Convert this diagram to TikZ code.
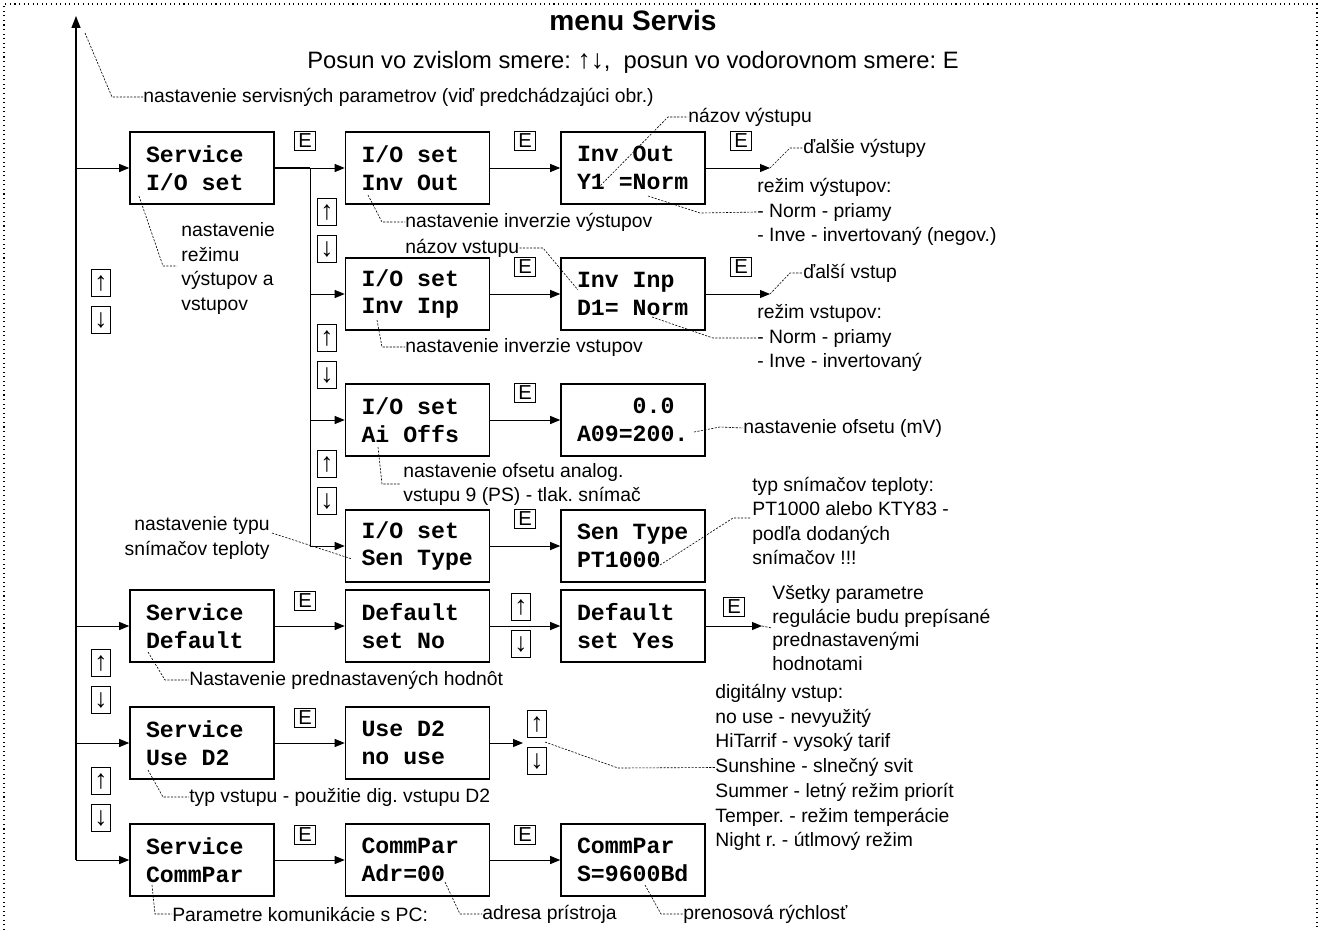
\documentclass[tikz,border=0pt]{standalone}
\usepackage{fontspec}
\setmainfont{Liberation Sans}
\newfontfamily\lcdfont{Liberation Mono}
\usepackage{tikz}
\usetikzlibrary{arrows.meta,calc,positioning}
\frenchspacing
\tikzset{%
	display/.style = {draw, line width=0.9pt, rectangle, minimum width=2.88cm, minimum height=1.44cm, inner sep=0pt, text width=2.24cm, align=left, font=\lcdfont\bfseries\fontsize{13.2}{15.9}\selectfont, execute at begin node=\spaceskip0.6em\relax},
	ekey/.style    = {draw, line width=0.5pt, minimum width=0.42cm, minimum height=0.38cm, inner sep=0pt, font=\fontsize{11.5}{11.5}\selectfont},
	udkey/.style   = {draw, line width=0.5pt, minimum width=0.38cm, minimum height=0.54cm, inner sep=0pt, font=\fontsize{15}{15}\selectfont},
	note/.style    = {anchor=west, inner sep=0pt, align=left, font=\fontsize{11}{14}\selectfont},
	arrow/.style   = {line width=0.55pt, -{Triangle[length=2mm,width=1.6mm]}},
	link/.style    = {line width=0.55pt},
	leader/.style  = {line width=0.35pt, dash pattern=on 1.2pt off 0.8pt},
}
\begin{document}
\begin{tikzpicture}[x=0.02cm,y=-0.02cm]
	\useasboundingbox (0,0) rectangle (1321,930);
	\draw[dotted, line width=0.6pt] (4,930) -- (4,4) -- (1317,4) -- (1317,930);  % frame
	
	\node[font=\bfseries\fontsize{16}{16}\selectfont] (title) at (633,20) {menu Servis};
	\node[font=\fontsize{13.5}{13.5}\selectfont] (subtitle) at (633,62) {Posun vo zvislom smere: {\fontsize{15}{15}\selectfont↑↓},\ \ posun vo vodorovnom smere: E};
	
	% displays
	\node[display] (sio) at (202,168) {Service\\I/O set};
	\node[display] (ioout) at (417.5,168) {I/O set\\Inv Out};
	\node[display] (invout) at (633,168) {Inv Out\\Y1 =Norm};
	\node[display] (ioinp) at (417.5,294) {I/O set\\Inv Inp};
	\node[display] (invinp) at (633,294) {Inv Inp\\D1= Norm};
	\node[display] (ioofs) at (417.5,420) {I/O set\\Ai Offs};
	\node[display] (ofsval) at (633,420) {\hphantom{A09=}0.0\\A09=200.};
	\node[display] (iosen) at (417.5,546) {I/O set\\Sen Type};
	\node[display] (sentype) at (633,546) {Sen Type\\PT1000};
	\node[display] (sdef) at (202,626) {Service\\Default};
	\node[display] (defno) at (417.5,626) {Default\\set No};
	\node[display] (defyes) at (633,626) {Default\\set Yes};
	\node[display] (sd2) at (202,743) {Service\\Use D2};
	\node[display] (d2val) at (417.5,743) {Use D2\\no use};
	\node[display] (scomm) at (202,860) {Service\\CommPar};
	\node[display] (commadr) at (417.5,860) {CommPar\\Adr=00};
	\node[display] (commbd) at (633,860) {CommPar\\S=9600Bd};
	
	% main line and I/O branch
	\coordinate (mtop) at (76,16);
	\coordinate (msub) at (310,168);
	\draw[line width=0.8pt, -{Triangle[length=2.4mm,width=1.8mm]}] (scomm.west -| mtop) -- (mtop);
	\foreach \n in {sio,sdef,sd2,scomm} \draw[arrow] (\n.west -| mtop) -- (\n.west);
	\draw[line width=1.1pt] (sio.east) -- (msub);
	\draw[link] (msub) -- (iosen.west -| msub);
	\foreach \n in {ioout,ioinp,ioofs,iosen} \draw[arrow] (\n.west -| msub) -- (\n.west);
	\foreach \a/\b in {ioout/invout, ioinp/invinp, ioofs/ofsval, iosen/sentype, sdef/defno, defno/defyes, sd2/d2val, scomm/commadr, commadr/commbd}
		\draw[arrow] (\a.east) -- (\b.west);
	
	\coordinate (nextout) at (770,168);
	\coordinate (nextinp) at (770,294);
	\coordinate (defend) at (762,626);
	\coordinate (d2end) at (523,743);
	\draw[arrow] (invout.east) -- (nextout);
	\draw[arrow] (invinp.east) -- (nextinp);
	\draw[arrow] (defyes.east) -- (defend);
	\draw[arrow] (d2val.east) -- (d2end);
	
	% keys
	\foreach \x/\y [count=\i] in {305/141, 525/141, 741/141, 525/267, 741/267, 525/393, 525/519, 305/601, 734/607, 305/718, 305/835, 525/835}
		\node[ekey] (e\i) at (\x,\y) {E};
	\foreach \x/\y [count=\i] in {101/283, 327/212, 327/338, 327/464, 521/607, 101/663, 537/724, 101/781} {
		\node[udkey] (up\i) at (\x,\y) {↑};
		\node[udkey] (dn\i) at (\x,\y+37) {↓};
	}
	
	% notes
	\node[note] (servpar) at (143,97) {nastavenie servisných parametrov (viď predchádzajúci obr.)};
	\draw[leader] (85,33) -- (112,97) -- (servpar.west);
	\node[note, font=\fontsize{11}{13.9}\selectfont] (iomode) at (181,268.5) {nastavenie\\režimu\\výstupov a\\vstupov};
	\draw[leader] (139,196) -- (163,266) -- (177,266);
	\node[note] (invouttxt) at (405,222) {nastavenie inverzie výstupov};
	\draw[leader] (368,195) -- (382,222) -- (invouttxt.west);
	\node[note] (invinptxt) at (405,347) {nastavenie inverzie vstupov};
	\draw[leader] (377,320) -- (382,347) -- (invinptxt.west);
	\node[note] (outname) at (688,117) {názov výstupu};
	\draw[leader] (598,188) -- (668,117) -- (outname.west);
	\node[note] (outmode) at (757,212) {režim výstupov:\\- Norm - priamy\\- Inve - invertovaný (negov.)};
	\draw[leader] (648,196) -- (700,213) -- (outmode.west);
	\node[note] (nextouttxt) at (803,148) {ďalšie výstupy};
	\draw[leader] (nextout) -- (790,148) -- (nextouttxt.west);
	\node[note] (inpname) at (405,248) {názov vstupu};
	\draw[leader] (inpname.east) -- (543,248) -- (578,290);
	\node[note] (nextinptxt) at (803,273) {ďalší vstup};
	\draw[leader] (nextinp) -- (790,273) -- (nextinptxt.west);
	\node[note] (inpmode) at (757,338) {režim vstupov:\\- Norm - priamy\\- Inve - invertovaný};
	\draw[leader] (652,317) -- (713,338) -- (inpmode.west);
	\node[note] (ofstxt) at (403,484.5) {nastavenie ofsetu analog.\\vstupu 9 (PS) - tlak. snímač};
	\draw[leader] (378,447) -- (382,484) -- (400,484);
	\node[note] (ofsmv) at (743,428) {nastavenie ofsetu (mV)};
	\draw[leader] (694,432) -- (720,427) -- (ofsmv.west);
	\node[note, anchor=east, align=right] (sentxt) at (270,538) {nastavenie typu\\snímačov teploty};
	\draw[leader] (272,533) -- (352,559);
	\node[note, font=\fontsize{11}{13.7}\selectfont] (sentypes) at (752,521) {typ snímačov teploty:\\PT1000 alebo KTY83 -\\podľa dodaných\\snímačov !!!};
	\draw[leader] (660,565) -- (733,518) -- (750,518);
	\node[note, font=\fontsize{11}{13.6}\selectfont] (defall) at (772,628) {Všetky parametre\\regulácie budu prepísané\\prednastavenými\\hodnotami};
	\draw[leader] (defend) -- (defall.west);
	\node[note] (deftxt) at (189,680) {Nastavenie prednastavených hodnôt};
	\draw[leader] (148,652) -- (165,680) -- (deftxt.west);
	\node[note] (d2txt) at (189,797) {typ vstupu - použitie dig. vstupu D2};
	\draw[leader] (148,770) -- (163,797) -- (d2txt.west);
	\node[note, font=\fontsize{11}{14.1}\selectfont] (d2list) at (715,767.5) {digitálny vstup:\\no use - nevyužitý\\HiTarrif - vysoký tarif\\Sunshine - slnečný svit\\Summer - letný režim priorít\\Temper. - režim temperácie\\Night r. - útlmový režim};
	\draw[leader] (545,742) -- (618,768) -- (d2list.west);
	\node[note] (commtxt) at (172,914) {Parametre komunikácie s PC:};
	\draw[leader] (152,885) -- (155,914) -- (commtxt.west);
	\node[note] (adrtxt) at (482,914) {adresa prístroja};
	\draw[leader] (445,882) -- (460,914) -- (adrtxt.west);
	\node[note] (bdtxt) at (683,914) {prenosová rýchlosť};
	\draw[leader] (645,885) -- (661,914) -- (bdtxt.west);
\end{tikzpicture}
\end{document}
